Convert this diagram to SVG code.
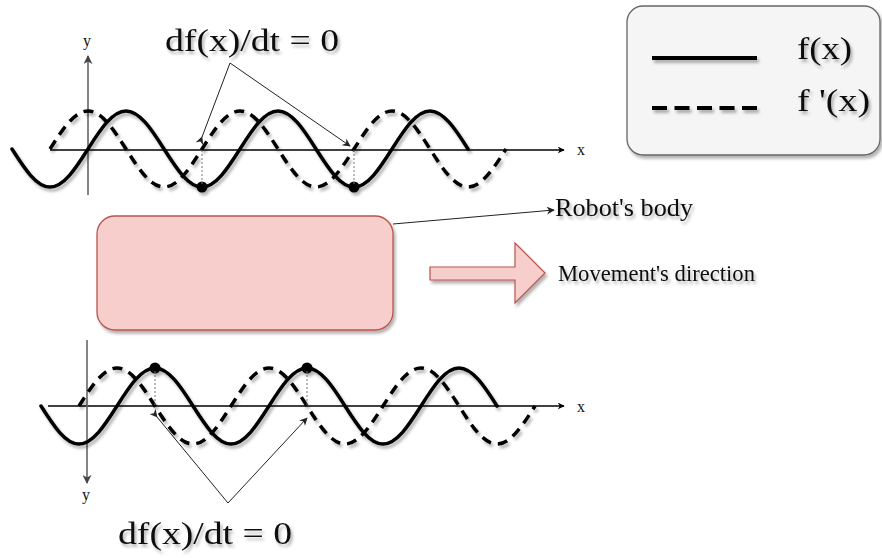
<svg xmlns="http://www.w3.org/2000/svg" width="882" height="558" viewBox="0 0 882 558">
<style>
text{font-family:"Liberation Serif","Times New Roman",serif;fill:#111}
.sol{fill:none;stroke:#000;stroke-width:3.5;stroke-linecap:round}
.das{fill:none;stroke:#000;stroke-width:3.5;stroke-dasharray:10 7}
.axis{fill:none;stroke:#000;stroke-width:1.3}
.yaxis{fill:none;stroke:#666;stroke-width:1.6}
.dot{fill:#000}
.vdot{stroke:#777;stroke-width:1;stroke-dasharray:2 2}
.call{fill:none;stroke:#222;stroke-width:1}
.sh{filter:url(#sh)}
</style>
<defs>
<filter id="sh" x="-10%" y="-10%" width="130%" height="140%">
<feDropShadow dx="2" dy="3" stdDeviation="1.8" flood-color="#000" flood-opacity="0.3"/>
</filter>
<marker id="ah" viewBox="0 0 10 10" refX="9" refY="5" markerWidth="7" markerHeight="7" markerUnits="userSpaceOnUse" orient="auto">
<path d="M0,0 L10,5 L0,10 L3,5 Z" fill="#000"/>
</marker>
<marker id="ahc" viewBox="0 0 10 10" refX="9" refY="5" markerWidth="8" markerHeight="8" markerUnits="userSpaceOnUse" orient="auto">
<path d="M0,0 L10,5 L0,10 L3,5 Z" fill="#222"/>
</marker>
<marker id="ahg" viewBox="0 0 10 10" refX="9" refY="5" markerWidth="9" markerHeight="9" markerUnits="userSpaceOnUse" orient="auto">
<path d="M0,0 L10,5 L0,10 L3,5 Z" fill="#444"/>
</marker>
</defs>
<rect width="882" height="558" fill="#fff"/>

<g id="top-graph">
<line class="axis" x1="50" y1="150" x2="564" y2="150" marker-end="url(#ah)"/>
<line class="yaxis" x1="88" y1="195" x2="88" y2="56" marker-end="url(#ahg)"/>
<text x="577" y="155" font-size="16">x</text>
<text x="83" y="46" font-size="16">y</text>
<g class="sh">
<path class="sol" d="M12,149 c12.39,19.47 24.3,38 38,38 c13.7,0 25.61,-18.53 38,-38 c12.39,-19.47 24.3,-38 38,-38 c13.7,0 25.61,18.53 38,38 c12.39,19.47 24.3,38 38,38 c13.7,0 25.61,-18.53 38,-38 c12.39,-19.47 24.3,-38 38,-38 c13.7,0 25.61,18.53 38,38 c12.39,19.47 24.3,38 38,38 c13.7,0 25.61,-18.53 38,-38 c12.39,-19.47 24.3,-38 38,-38 c13.7,0 25.61,18.53 38,38"/>
<path class="das" d="M50,149 c12.39,-19.47 24.3,-38 38,-38 c13.7,0 25.61,18.53 38,38 c12.39,19.47 24.3,38 38,38 c13.7,0 25.61,-18.53 38,-38 c12.39,-19.47 24.3,-38 38,-38 c13.7,0 25.61,18.53 38,38 c12.39,19.47 24.3,38 38,38 c13.7,0 25.61,-18.53 38,-38 c12.39,-19.47 24.3,-38 38,-38 c13.7,0 25.61,18.53 38,38 c12.39,19.47 24.3,38 38,38 c13.7,0 25.61,-18.53 38,-38"/>
<circle class="dot" cx="202" cy="187" r="5.5"/>
<circle class="dot" cx="354" cy="187" r="5.5"/>
</g>
<line class="vdot" x1="202" y1="150" x2="202" y2="184"/>
<line class="vdot" x1="354" y1="150" x2="354" y2="184"/>
</g>

<g id="bottom-graph">
<line class="axis" x1="48" y1="406" x2="564" y2="406" marker-end="url(#ah)"/>
<line class="yaxis" x1="87" y1="340" x2="87" y2="483" marker-end="url(#ahg)"/>
<text x="577" y="412" font-size="16">x</text>
<text x="82" y="500" font-size="16">y</text>
<g class="sh">
<path class="sol" d="M41,406 c12.39,19.47 24.3,38 38,38 c13.7,0 25.61,-18.53 38,-38 c12.39,-19.47 24.3,-38 38,-38 c13.7,0 25.61,18.53 38,38 c12.39,19.47 24.3,38 38,38 c13.7,0 25.61,-18.53 38,-38 c12.39,-19.47 24.3,-38 38,-38 c13.7,0 25.61,18.53 38,38 c12.39,19.47 24.3,38 38,38 c13.7,0 25.61,-18.53 38,-38 c12.39,-19.47 24.3,-38 38,-38 c13.7,0 25.61,18.53 38,38"/>
<path class="das" d="M79,406 c12.39,-19.47 24.3,-38 38,-38 c13.7,0 25.61,18.53 38,38 c12.39,19.47 24.3,38 38,38 c13.7,0 25.61,-18.53 38,-38 c12.39,-19.47 24.3,-38 38,-38 c13.7,0 25.61,18.53 38,38 c12.39,19.47 24.3,38 38,38 c13.7,0 25.61,-18.53 38,-38 c12.39,-19.47 24.3,-38 38,-38 c13.7,0 25.61,18.53 38,38 c12.39,19.47 24.3,38 38,38 c13.7,0 25.61,-18.53 38,-38"/>
<circle class="dot" cx="155" cy="368" r="5.5"/>
<circle class="dot" cx="307" cy="368" r="5.5"/>
</g>
<line class="vdot" x1="155" y1="371" x2="155" y2="406"/>
<line class="vdot" x1="307" y1="371" x2="307" y2="406"/>
</g>

<g id="legend">
<rect class="sh" x="627" y="6" width="253" height="149" rx="16" fill="#f5f5f5" stroke="#666" stroke-width="1.3"/>
<g class="sh">
<line x1="652" y1="58" x2="757" y2="58" stroke="#000" stroke-width="4"/>
<line x1="652" y1="108" x2="757" y2="108" stroke="#000" stroke-width="4" stroke-dasharray="15 7.5"/>
</g>
<text class="sh" x="797" y="59" font-size="31" textLength="55" lengthAdjust="spacingAndGlyphs">f(x)</text>
<text class="sh" x="797" y="111" font-size="31" textLength="73" lengthAdjust="spacingAndGlyphs">f '(x)</text>
</g>

<g id="robot-body">
<rect class="sh" x="97" y="216" width="296" height="114" rx="18" fill="#f8cecc" stroke="#b85450" stroke-width="1.3"/>
</g>

<g id="movement-arrow">
<path class="sh" d="M430,267 L515,267 L515,243 L545,273 L515,303 L515,280 L430,280 Z" fill="#f8cecc" stroke="#b85450" stroke-width="1.2"/>
</g>

<g id="labels">
<text class="sh" x="165" y="51" font-size="32" textLength="174" lengthAdjust="spacingAndGlyphs">df(x)/dt = 0</text>
<text class="sh" x="118" y="544" font-size="32" textLength="174" lengthAdjust="spacingAndGlyphs">df(x)/dt = 0</text>
<text class="sh" x="555" y="216" font-size="25" textLength="138" lengthAdjust="spacingAndGlyphs">Robot's body</text>
<text class="sh" x="558" y="281" font-size="24" textLength="197" lengthAdjust="spacingAndGlyphs">Movement's direction</text>
</g>

<g id="connectors">
<polyline class="call" points="202,137 230,63 350,146" marker-start="url(#ahc)" marker-end="url(#ahc)"/>
<polyline class="call" points="157,417 228,503 307,418" marker-start="url(#ahc)" marker-end="url(#ahc)"/>
<line class="call" x1="393" y1="224" x2="554" y2="210" marker-end="url(#ahc)"/>
</g>
</svg>
